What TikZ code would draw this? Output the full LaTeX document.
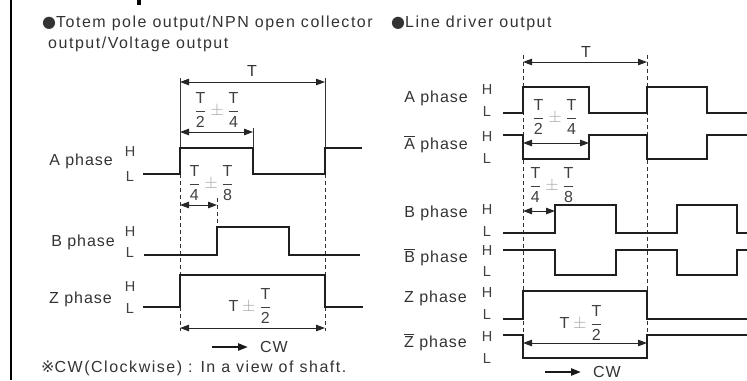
\documentclass[tikz,border=0pt]{standalone}
\usepackage{amsmath}
\usepackage{fontspec}
\setmainfont[LetterSpace=6]{Liberation Sans}
\newfontfamily\titlefont[LetterSpace=9.5]{Liberation Sans}
\newfontfamily\symfont{DejaVu Sans}
\usetikzlibrary{arrows.meta}

\tikzset{
  sig/.style={line width=1.8bp, black!88, line join=miter},
  dim/.style={line width=1bp, black!85, {Triangle[length=9bp,width=6.5bp]}-{Triangle[length=9bp,width=6.5bp]}},
  guide/.style={line width=0.9bp, black!80, dash pattern=on 4bp off 3bp},
  tick/.style={line width=0.9bp, black!80},
  lbl/.style={font=\fontsize{16bp}{18bp}\selectfont, text=black!80, inner sep=0pt},
  ttl/.style={font=\titlefont\fontsize{16bp}{18bp}\selectfont, text=black!80, inner sep=0pt},
  lvl/.style={font=\fontsize{14.5bp}{16bp}\selectfont, text=black!75, inner sep=0pt},
  frc/.style={font=\fontsize{16bp}{18bp}\selectfont, text=black!75, inner sep=0pt},
  cwarrow/.style={line width=2.2bp, black!90, -{Triangle[length=10bp,width=7bp]}},
}
\newcommand{\pmg}{\mathbin{\textcolor{black!35}{\pm}}}
\newcommand{\fr}[2]{\dfrac{\text{#1}}{\text{#2}}}
\newcommand{\negsig}[1]{$\overline{\text{#1}}$}

\begin{document}
\begin{tikzpicture}[x=1bp, y=-1bp]
    \useasboundingbox (0,0) rectangle (747,380);

    % Cadre
    \draw[line width=2.5bp] (11,0) -- (11,380);
    \fill (137,0) rectangle (141,5);

    % Titres
    \node[ttl, anchor=base west] (t1) at (42,27) {{\symfont ●}Totem pole output/NPN open collector};
    \node[ttl, anchor=base west] (t2) at (48,48) {output/Voltage output};
    \node[ttl, anchor=base west] (t3) at (391,27) {{\symfont ●}Line driver output};

    % ---------- Sortie totem pole ----------
    % Repères
    \draw[tick] (180,78) -- (180,148);
    \draw[tick] (325,78) -- (325,148);
    \draw[tick] (253,128) -- (253,148);
    \draw[guide] (180,174) -- (180,331);
    \draw[guide] (325,174) -- (325,331);
    \draw[guide] (217,198) -- (217,227);

    % Signaux
    \draw[sig] (143,174) -- (180,174) -- (180,148) -- (253,148) -- (253,174) -- (325,174) -- (325,148) -- (362,148);
    \draw[sig] (144,255) -- (217,255) -- (217,227) -- (289,227) -- (289,255) -- (360,255);
    \draw[sig] (143,307) -- (180,307) -- (180,275) -- (325,275) -- (325,307) -- (363,307);

    % Cotes
    \draw[dim] (180,82) -- (325,82);
    \draw[dim] (180,132) -- (253,132);
    \draw[dim] (180,205) -- (217,205);
    \draw[dim] (180,328) -- (325,328);
    \node[lbl] (lT) at (252,71) {T};
    \node[frc] (lf1) at (217,110) {$\fr{T}{2} \pmg \fr{T}{4}$};
    \node[frc] (lf2) at (211,183) {$\fr{T}{4} \pmg \fr{T}{8}$};
    \node[frc] (lf3) at (250,306) {$\text{T} \pmg \fr{T}{2}$};

    % Labels
    \node[lbl, anchor=east] (lA) at (113,161) {A phase};
    \node[lbl, anchor=east] (lB) at (115,242) {B phase};
    \node[lbl, anchor=east] (lZ) at (112,299) {Z phase};
    \node[lvl] (lAH) at (130,152) {H};
    \node[lvl] (lAL) at (130,177) {L};
    \node[lvl] (lBH) at (130,232) {H};
    \node[lvl] (lBL) at (130,253) {L};
    \node[lvl] (lZH) at (130,287) {H};
    \node[lvl] (lZL) at (130,309) {L};

    % Sens de rotation
    \coordinate (lcw0) at (212,347);
    \coordinate (lcw1) at (248,347);
    \draw[cwarrow] (lcw0) -- (lcw1);
    \node[lbl, anchor=west] (lcw) at (260,347) {CW};
    \node[ttl, anchor=west] (note) at (41,368) {{\symfont ※}CW(Clockwise) : In a view of shaft.};

    % ---------- Sortie line driver ----------
    % Repères
    \draw[guide] (523,55) -- (523,345);
    \draw[guide] (647,55) -- (647,345);

    % Signaux
    \draw[sig] (503,113) -- (523,113) -- (523,87) -- (589,87) -- (589,113) -- (647,113) -- (647,87) -- (707,87) -- (707,113) -- (748,113);
    \draw[sig] (503,135) -- (523,135) -- (523,159) -- (589,159) -- (589,135) -- (647,135) -- (647,159) -- (707,159) -- (707,135) -- (748,135);
    \draw[sig] (503,233) -- (555,233) -- (555,205) -- (616,205) -- (616,233) -- (677,233) -- (677,205) -- (737,205) -- (737,233) -- (748,233);
    \draw[sig] (503,250) -- (555,250) -- (555,275) -- (616,275) -- (616,250) -- (677,250) -- (677,275) -- (737,275) -- (737,250) -- (748,250);
    \draw[sig] (503,319) -- (523,319) -- (523,291) -- (647,291) -- (647,319) -- (748,319);
    \draw[sig] (503,335) -- (523,335) -- (523,358) -- (647,358) -- (647,335) -- (748,335);

    % Cotes
    \draw[dim] (523,62) -- (647,62);
    \draw[dim] (523,143) -- (589,143);
    \draw[dim] (523,211) -- (555,211);
    \draw[dim] (523,343) -- (647,343);
    \node[lbl] (rT) at (586,52) {T};
    \node[frc] (rf1) at (555,117) {$\fr{T}{2} \pmg \fr{T}{4}$};
    \node[frc] (rf2) at (552,185) {$\fr{T}{4} \pmg \fr{T}{8}$};
    \node[frc] (rf3) at (581,323) {$\text{T} \pmg \fr{T}{2}$};

    % Labels
    \node[lbl, anchor=east] (rA) at (468,98) {A phase};
    \node[lbl, anchor=east] (rAn) at (468,144) {\negsig{A} phase};
    \node[lbl, anchor=east] (rB) at (468,213) {B phase};
    \node[lbl, anchor=east] (rBn) at (468,257) {\negsig{B} phase};
    \node[lbl, anchor=east] (rZ) at (467,298) {Z phase};
    \node[lbl, anchor=east] (rZn) at (467,342) {\negsig{Z} phase};
    \node[lvl] (rAH) at (487,90) {H};
    \node[lvl] (rAL) at (487,112) {L};
    \node[lvl] (rAnH) at (487,137) {H};
    \node[lvl] (rAnL) at (487,159) {L};
    \node[lvl] (rBH) at (487,210) {H};
    \node[lvl] (rBL) at (487,232) {L};
    \node[lvl] (rBnH) at (487,251) {H};
    \node[lvl] (rBnL) at (487,272) {L};
    \node[lvl] (rZH) at (487,293) {H};
    \node[lvl] (rZL) at (487,315) {L};
    \node[lvl] (rZnH) at (487,337) {H};
    \node[lvl] (rZnL) at (487,359) {L};

    % Sens de rotation
    \coordinate (rcw0) at (545,372);
    \coordinate (rcw1) at (581,372);
    \draw[cwarrow] (rcw0) -- (rcw1);
    \node[lbl, anchor=west] (rcw) at (593,372) {CW};
\end{tikzpicture}
\end{document}
